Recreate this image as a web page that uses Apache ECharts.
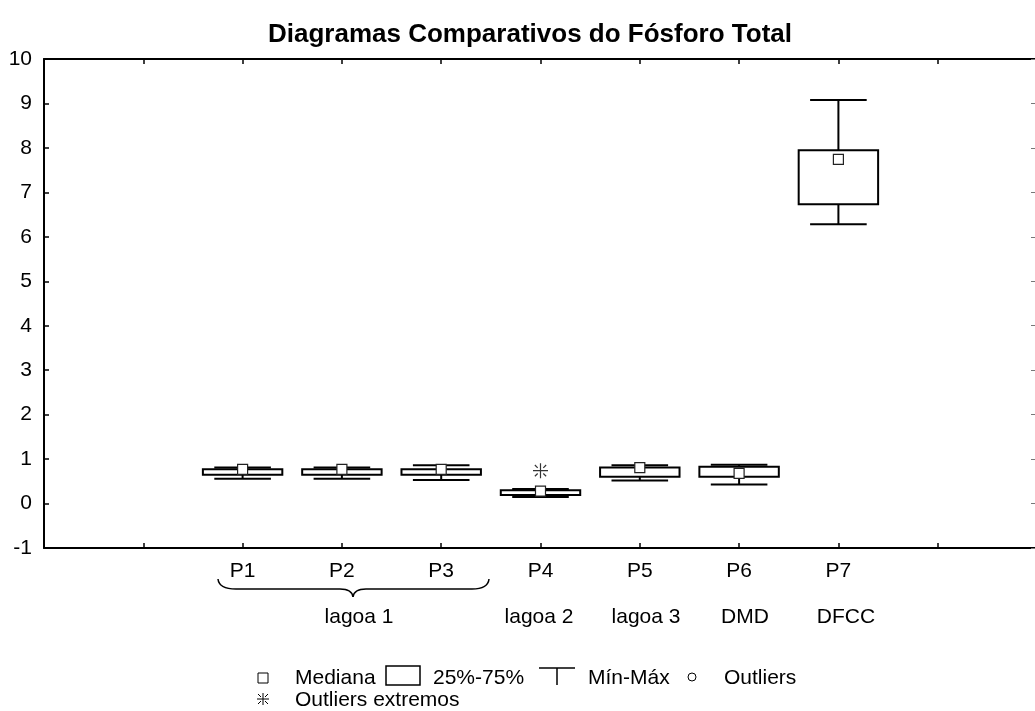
<!DOCTYPE html>
<html>
<head>
<meta charset="utf-8">
<script src="https://cdn.jsdelivr.net/npm/echarts@6/dist/echarts.min.js"></script>
<style>
html,body{margin:0;padding:0;background:#fff;overflow:hidden;}
#c{width:1040px;height:711px;}
</style>
</head>
<body>
<div id="c"></div>
<script>
// ---- data ----
const cats = ['P1', 'P2', 'P3', 'P4', 'P5', 'P6', 'P7'];
const minV = [0.56, 0.56, 0.53, 0.15, 0.52, 0.43, 6.28];
const q1V  = [0.65, 0.65, 0.65, 0.19, 0.60, 0.60, 6.73];
const medV = [0.77, 0.77, 0.77, 0.28, 0.81, 0.68, 7.74];
const q3V  = [0.77, 0.77, 0.77, 0.30, 0.81, 0.83, 7.95];
const maxV = [0.81, 0.81, 0.86, 0.33, 0.86, 0.87, 9.08];
const extremeCats = ['P4'];
const extremeVals = [0.74];
const groupLabels = ['lagoa 1', 'lagoa 2', 'lagoa 3', 'DMD', 'DFCC'];
const yTicks = [-1, 0, 1, 2, 3, 4, 5, 6, 7, 8, 9, 10];

// ---- layout (pixels) ----
const groupX = [359, 539, 646, 745, 846];
const FONT = 'Liberation Sans, Arial, sans-serif';

const boxData = cats.map((c, i) => [i + 1, minV[i], q1V[i], medV[i], q3V[i], maxV[i]]);
const extremeData = extremeCats.map((c, i) => [cats.indexOf(c) + 1, extremeVals[i]]);

function renderBox(params, api) {
  const x = api.value(0);
  const lo = api.coord([x, api.value(1)]);
  const q1 = api.coord([x, api.value(2)]);
  const md = api.coord([x, api.value(3)]);
  const q3 = api.coord([x, api.value(4)]);
  const hi = api.coord([x, api.value(5)]);
  const unit = api.size([1, 0])[0];
  const bw = unit * 0.8, cw = unit * 0.57;
  const cx = lo[0];
  const ls = { stroke: '#000', lineWidth: 2 };
  return {
    type: 'group',
    children: [
      { type: 'line', shape: { x1: cx - cw / 2, y1: hi[1], x2: cx + cw / 2, y2: hi[1] }, style: ls },
      { type: 'line', shape: { x1: cx, y1: hi[1], x2: cx, y2: q3[1] }, style: ls },
      { type: 'line', shape: { x1: cx - cw / 2, y1: lo[1], x2: cx + cw / 2, y2: lo[1] }, style: ls },
      { type: 'line', shape: { x1: cx, y1: lo[1], x2: cx, y2: q1[1] }, style: ls },
      { type: 'rect', shape: { x: cx - bw / 2, y: q3[1], width: bw, height: q1[1] - q3[1] }, style: { fill: '#fff', stroke: '#000', lineWidth: 2 } },
      { type: 'rect', shape: { x: cx - 5, y: md[1] - 5, width: 10, height: 10 }, style: { fill: '#fff', stroke: '#222', lineWidth: 1.2 } }
    ]
  };
}

const starPath = 'path://M8,0L8,16M0,8L16,8M2,2L5,5M11,11L14,14M14,2L11,5M5,11L2,14';

const chart = echarts.init(document.getElementById('c'), null, { renderer: 'canvas' });

const txt = (x, y, s, align) => ({ type: 'text', x: x, y: y, style: { text: s, font: '21px ' + FONT, fill: '#000', textAlign: align || 'left', textVerticalAlign: 'middle' } });

const graphics = [];
groupLabels.forEach((g, i) => graphics.push(txt(groupX[i], 617, g, 'center')));
// brace under P1-P3
const bs = { stroke: '#000', lineWidth: 1.5, fill: 'none' };
graphics.push(
  { type: 'bezierCurve', shape: { x1: 218, y1: 579, cpx1: 219, cpy1: 589, x2: 236, y2: 589 }, style: bs },
  { type: 'line', shape: { x1: 236, y1: 589, x2: 340, y2: 589 }, style: bs },
  { type: 'bezierCurve', shape: { x1: 340, y1: 589, cpx1: 352, cpy1: 589, x2: 353, y2: 597 }, style: bs },
  { type: 'bezierCurve', shape: { x1: 353, y1: 597, cpx1: 354, cpy1: 589, x2: 366, y2: 589 }, style: bs },
  { type: 'line', shape: { x1: 366, y1: 589, x2: 472, y2: 589 }, style: bs },
  { type: 'bezierCurve', shape: { x1: 472, y1: 589, cpx1: 488, cpy1: 589, x2: 489, y2: 579 }, style: bs }
);
// legend
const ly = 678, ly2 = 700;
graphics.push(
  { type: 'rect', shape: { x: 258, y: ly - 5, width: 10, height: 10 }, style: { fill: '#fff', stroke: '#000', lineWidth: 1 } },
  txt(295, ly, 'Mediana'),
  { type: 'rect', shape: { x: 386, y: ly - 12, width: 34, height: 19 }, style: { fill: '#fff', stroke: '#000', lineWidth: 1.5 } },
  txt(433, ly, '25%-75%'),
  { type: 'line', shape: { x1: 539, y1: ly - 10, x2: 575, y2: ly - 10 }, style: { stroke: '#000', lineWidth: 1.5 } },
  { type: 'line', shape: { x1: 557, y1: ly - 10, x2: 557, y2: ly + 7 }, style: { stroke: '#000', lineWidth: 1.5 } },
  txt(588, ly, 'Mín-Máx'),
  { type: 'circle', shape: { cx: 692, cy: ly - 1, r: 4 }, style: { fill: '#fff', stroke: '#000', lineWidth: 1 } },
  txt(724, ly, 'Outliers'),
  txt(295, ly2, 'Outliers extremos'),
  { type: 'group', x: 263, y: ly2 - 1, children: [
    { type: 'line', shape: { x1: 0, y1: -6, x2: 0, y2: 6 }, style: { stroke: '#000', lineWidth: 1 } },
    { type: 'line', shape: { x1: -6, y1: 0, x2: 6, y2: 0 }, style: { stroke: '#000', lineWidth: 1 } },
    { type: 'line', shape: { x1: -5, y1: -5, x2: -2, y2: -2 }, style: { stroke: '#000', lineWidth: 1 } },
    { type: 'line', shape: { x1: 5, y1: 5, x2: 2, y2: 2 }, style: { stroke: '#000', lineWidth: 1 } },
    { type: 'line', shape: { x1: 5, y1: -5, x2: 2, y2: -2 }, style: { stroke: '#000', lineWidth: 1 } },
    { type: 'line', shape: { x1: -5, y1: 5, x2: -2, y2: 2 }, style: { stroke: '#000', lineWidth: 1 } }
  ] }
);

const axisLineStyle = { show: true, onZero: false, lineStyle: { color: '#000', width: 2 } };
const option = {
  animation: false,
  backgroundColor: '#fff',
  title: {
    text: 'Diagramas Comparativos do Fósforo Total',
    left: 525, top: 17, textAlign: 'center',
    textStyle: { fontFamily: FONT, fontWeight: 'bold', fontSize: 26, color: '#000' }
  },
  grid: { left: 44, right: 1, top: 59, bottom: 163 },
  xAxis: [
    {
      type: 'value', min: -1, max: 9, interval: 1, position: 'bottom',
      axisLine: axisLineStyle, splitLine: { show: false },
      axisTick: { show: true, inside: true, length: 5, lineStyle: { color: '#000', width: 1.5 } },
      axisLabel: {
        margin: 13, fontFamily: FONT, fontSize: 21, color: '#000',
        formatter: v => (v >= 1 && v <= cats.length) ? cats[v - 1] : ''
      }
    },
    {
      type: 'value', min: -1, max: 9, interval: 1, position: 'top',
      axisLine: axisLineStyle, splitLine: { show: false },
      axisTick: { show: true, inside: true, length: 5, lineStyle: { color: '#000', width: 1.5 } },
      axisLabel: { show: false }
    }
  ],
  yAxis: [
    {
      type: 'value', min: yTicks[0], max: yTicks[yTicks.length - 1], interval: 1, position: 'left',
      axisLine: axisLineStyle, splitLine: { show: false },
      axisTick: { show: true, inside: true, length: 5, lineStyle: { color: '#000', width: 1.5 } },
      axisLabel: { margin: 12, fontFamily: FONT, fontSize: 21, color: '#000' }
    },
    {
      type: 'value', min: yTicks[0], max: yTicks[yTicks.length - 1], interval: 1, position: 'right',
      axisLine: axisLineStyle, splitLine: { show: false },
      axisTick: { show: true, inside: true, length: 6, lineStyle: { color: '#777', width: 1 } },
      axisLabel: { show: false }
    }
  ],
  series: [
    { type: 'custom', renderItem: renderBox, data: boxData, xAxisIndex: 0, yAxisIndex: 0, encode: { x: 0, y: [1, 2, 3, 4, 5] }, clip: false },
    { type: 'scatter', data: extremeData, xAxisIndex: 0, yAxisIndex: 0, symbol: starPath, symbolSize: 15,
      itemStyle: { color: 'none', borderColor: '#000', borderWidth: 1.2 } }
  ],
  graphic: graphics
};
chart.setOption(option);
</script>
</body>
</html>
